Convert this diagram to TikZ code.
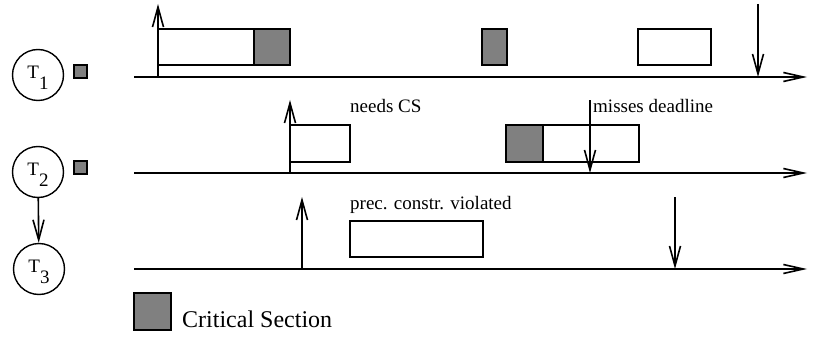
\documentclass[tikz,border=0pt]{standalone}
\usepackage{fontspec}
\setmainfont{Liberation Serif}
\usetikzlibrary{arrows.meta}
\definecolor{tlInk}{HTML}{000000}
\definecolor{tlCrit}{HTML}{808080}
\newcommand{\TLType}{\fontsize{19}{22}\selectfont}
\newcommand{\TLTask}[1]{\smash{\raisebox{-3pt}{T\raisebox{-11pt}{#1}}}}
\tikzset{tl/base/.style={x=1pt,y=1pt,line cap=butt,line join=miter,
  every node/.style={font=\TLType,inner sep=0pt,text=tlInk}},
  tl/axis/.style={-{Straight Barb[length=20pt,width=9pt]},draw=tlInk,line width=1.6pt},
  tl/event/.style={-{Straight Barb[length=20pt,width=11pt]},draw=tlInk,line width=1.6pt},
  tl/job/.style={draw=tlInk,fill=white,line width=1.6pt},
  tl/crit/.style={draw=tlInk,fill=tlCrit,line width=1.6pt,inner sep=0pt},
  tl/task/.style={circle,draw=tlInk,line width=1.4pt,minimum size=51pt}}

\begin{document}
\begin{tikzpicture}[tl/base,y=-1pt]
  \useasboundingbox (0,0) rectangle (817,337);
  % tasks, their critical sections and the precedence T2 -> T3
  \node[tl/task] (T1) at (38,75) {\TLTask{1}};
  \node[tl/task] (T2) at (38,172) {\TLTask{2}};
  \node[tl/task] (T3) at (39,269) {\TLTask{3}};
  \node[tl/crit,minimum size=13pt] (cs1) at (80.5,71.5) {};
  \node[tl/crit,minimum size=13pt] (cs2) at (80.5,167.5) {};
  \draw[tl/event] (T2) -- (T3);
  \foreach \n/\y in {1/77,2/173,3/269}{
    \coordinate (ax\n s) at (134,\y);
    \coordinate (ax\n e) at (807,\y);
    \draw[tl/axis] (ax\n s) -- (ax\n e);}
  % T1: runs, enters its critical section, then resumes later
  \draw[tl/job] (158,29) rectangle (254,65);
  \draw[tl/crit] (254,29) rectangle (290,65);
  \draw[tl/crit] (482,29) rectangle (507,65);
  \draw[tl/job] (638,29) rectangle (711,65);
  \draw[tl/event] (158,77) -- (158,4);
  \draw[tl/event] (758,4) -- (758,77);
  % T2: blocked on the critical section
  \draw[tl/job] (290,125) rectangle (350,162);
  \draw[tl/crit] (506,125) rectangle (543,162);
  \draw[tl/job] (543,125) rectangle (639,162);
  \draw[tl/event] (290,173) -- (290,100);
  \draw[tl/event] (590,100) -- (590,173);
  \node[anchor=base west] (needcs) at (350,113) {needs CS};
  \node[anchor=base west] (misses) at (593,113) {misses deadline};
  % T3: starts before its predecessor has finished
  \draw[tl/job] (350,221) rectangle (483,257);
  \draw[tl/event] (302,269) -- (302,197);
  \draw[tl/event] (675,197) -- (675,269);
  \node[anchor=base west] (prec) at (350,209) {prec. constr. violated};
  % legend
  \node[tl/crit,minimum size=37pt] (legcs) at (152.5,311.5) {};
  \node[anchor=base west,font=\fontsize{24}{28}\selectfont] (legtext) at (182,327) {Critical Section};
\end{tikzpicture}
\end{document}
